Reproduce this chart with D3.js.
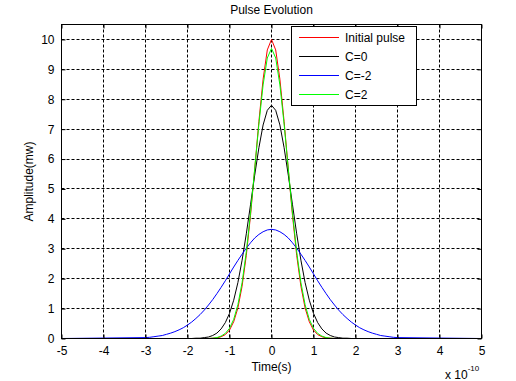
<!DOCTYPE html>
<meta charset="utf-8">
<style>
body { margin: 0; background: #fff; }
text { font-family: "Liberation Sans", Arial, sans-serif; fill: #000; }
</style>
<div id="chart"></div>
<script src="https://d3js.org/d3.v7.min.js"></script>
<script>

// time samples, in units of 1e-10 s
var timeAxis = [-5,
  -3.0, -2.9, -2.8, -2.7, -2.6, -2.5, -2.4, -2.3, -2.2, -2.1,
  -2.0, -1.9, -1.8, -1.7, -1.6, -1.5, -1.4, -1.3, -1.2, -1.1,
  -1.0, -0.9, -0.8, -0.7, -0.6, -0.5, -0.4, -0.3, -0.2, -0.1,
  0,
  0.1, 0.2, 0.3, 0.4, 0.5, 0.6, 0.7, 0.8, 0.9, 1.0,
  1.1, 1.2, 1.3, 1.4, 1.5, 1.6, 1.7, 1.8, 1.9, 2.0,
  2.1, 2.2, 2.3, 2.4, 2.5, 2.6, 2.7, 2.8, 2.9, 3.0,
  5];

var initialPulse = [0,
  0, 0, 0, 0, 0, 0, 0, 0, 0, 0,
  0, 0, 0, 0, 0, 0, 0.01, 0.02, 0.06, 0.13,
  0.28, 0.56, 1.02, 1.75, 2.78, 4.11, 5.66, 7.26, 8.67, 9.65,
  10.0,
  9.65, 8.67, 7.26, 5.66, 4.11, 2.78, 1.75, 1.02, 0.56, 0.28,
  0.13, 0.06, 0.02, 0.01, 0, 0, 0, 0, 0, 0,
  0, 0, 0, 0, 0, 0, 0, 0, 0, 0,
  0];

var pulseC0 = [0,
  0, 0, 0, 0, 0, 0, 0, 0, 0, 0,
  0, 0, 0.01, 0.01, 0.03, 0.05, 0.10, 0.18, 0.32, 0.53,
  0.84, 1.28, 1.87, 2.62, 3.50, 4.47, 5.46, 6.38, 7.14, 7.63,
  7.80,
  7.63, 7.14, 6.38, 5.46, 4.47, 3.50, 2.62, 1.87, 1.28, 0.84,
  0.53, 0.32, 0.18, 0.10, 0.05, 0.03, 0.01, 0.01, 0, 0,
  0, 0, 0, 0, 0, 0, 0, 0, 0, 0,
  0];

var pulseCm2 = [0,
  0.03, 0.04, 0.06, 0.08, 0.10, 0.14, 0.18, 0.23, 0.29, 0.36,
  0.45, 0.55, 0.67, 0.80, 0.95, 1.12, 1.30, 1.50, 1.71, 1.93,
  2.16, 2.39, 2.61, 2.82, 3.02, 3.20, 3.36, 3.48, 3.57, 3.63,
  3.65,
  3.63, 3.57, 3.48, 3.36, 3.20, 3.02, 2.82, 2.61, 2.39, 2.16,
  1.93, 1.71, 1.50, 1.30, 1.12, 0.95, 0.80, 0.67, 0.55, 0.45,
  0.36, 0.29, 0.23, 0.18, 0.14, 0.10, 0.08, 0.06, 0.04, 0.03,
  0];

var pulseC2 = [0,
  0, 0, 0, 0, 0, 0, 0, 0, 0, 0,
  0, 0, 0, 0, 0, 0, 0.01, 0.03, 0.08, 0.17,
  0.34, 0.64, 1.13, 1.87, 2.90, 4.19, 5.67, 7.17, 8.48, 9.38,
  9.70,
  9.38, 8.48, 7.17, 5.67, 4.19, 2.90, 1.87, 1.13, 0.64, 0.34,
  0.17, 0.08, 0.03, 0.01, 0, 0, 0, 0, 0, 0,
  0, 0, 0, 0, 0, 0, 0, 0, 0, 0,
  0];

var seriesNames = ["Initial pulse", "C=0", "C=-2", "C=2"];
var seriesColors = ["#ff0000", "#000000", "#0000ff", "#00ff00"];
var seriesValues = [initialPulse, pulseC0, pulseCm2, pulseC2];

var xTicks = [-5, -4, -3, -2, -1, 0, 1, 2, 3, 4, 5];
var yTicks = [0, 1, 2, 3, 4, 5, 6, 7, 8, 9, 10];

var W = 516, H = 381;
var box = {left: 61.5, right: 481.5, top: 24.5, bottom: 338.5};

var svg = d3.select("#chart").append("svg")
    .attr("width", W)
    .attr("height", H);

var x = d3.scaleLinear().domain([-5, 5]).range([box.left, box.right]);
var y = d3.scaleLinear().domain([0, 10.5]).range([box.bottom, box.top]);
var snap = function(v) { return Math.round(v - 0.5) + 0.5; };

// grid
var grid = svg.append("g")
    .attr("stroke", "#000")
    .attr("stroke-width", 1)
    .attr("stroke-dasharray", "3,2");

grid.selectAll(".gx")
    .data(xTicks.slice(1, -1))
    .enter().append("line")
      .attr("x1", function(d) { return snap(x(d)); })
      .attr("x2", function(d) { return snap(x(d)); })
      .attr("y1", box.top)
      .attr("y2", box.bottom);

grid.selectAll(".gy")
    .data(yTicks.slice(1))
    .enter().append("line")
      .attr("x1", box.left)
      .attr("x2", box.right)
      .attr("y1", function(d) { return snap(y(d)); })
      .attr("y2", function(d) { return snap(y(d)); });

// curves
var line = d3.line()
    .x(function(d) { return x(d[0]); })
    .y(function(d) { return y(d[1]); });

seriesValues.forEach(function(vals, i) {
  var pts = timeAxis.map(function(t, j) { return [t, vals[j]]; });
  svg.append("path")
      .datum(pts)
      .attr("fill", "none")
      .attr("stroke", seriesColors[i])
      .attr("stroke-width", 1)
      .attr("d", line);
});

// box + inward ticks
svg.append("rect")
    .attr("x", box.left)
    .attr("y", box.top)
    .attr("width", box.right - box.left)
    .attr("height", box.bottom - box.top)
    .attr("fill", "none")
    .attr("stroke", "#000");

function fmt(d) { return String(d); }

svg.append("g")
    .attr("transform", "translate(0," + box.bottom + ")")
    .call(d3.axisBottom(x).tickValues(xTicks).tickSize(-4).tickPadding(8).tickFormat(fmt))
    .call(function(g) { g.select(".domain").remove(); })
    .selectAll("text")
      .attr("font-size", 12)
      .attr("font-family", "Liberation Sans, Arial, sans-serif");

svg.append("g")
    .attr("transform", "translate(" + box.left + ",0)")
    .call(d3.axisLeft(y).tickValues(yTicks).tickSize(-4).tickPadding(7).tickFormat(fmt))
    .call(function(g) { g.select(".domain").remove(); })
    .selectAll("text")
      .attr("font-size", 12)
      .attr("font-family", "Liberation Sans, Arial, sans-serif");

svg.append("g")
    .attr("transform", "translate(0," + box.top + ")")
    .call(d3.axisTop(x).tickValues(xTicks).tickSize(-4).tickFormat(""))
    .call(function(g) { g.select(".domain").remove(); });

svg.append("g")
    .attr("transform", "translate(" + box.right + ",0)")
    .call(d3.axisRight(y).tickValues(yTicks).tickSize(-4).tickFormat(""))
    .call(function(g) { g.select(".domain").remove(); });

// labels
svg.append("text")
    .attr("x", (box.left + box.right) / 2)
    .attr("y", 14)
    .attr("text-anchor", "middle")
    .attr("font-size", 12)
    .text("Pulse Evolution");

svg.append("text")
    .attr("x", (box.left + box.right) / 2)
    .attr("y", 371)
    .attr("text-anchor", "middle")
    .attr("font-size", 12)
    .text("Time(s)");

svg.append("text")
    .attr("transform", "translate(33," + ((box.top + box.bottom) / 2) + ") rotate(-90)")
    .attr("text-anchor", "middle")
    .attr("font-size", 12)
    .text("Amplitude(mw)");

var expo = svg.append("text")
    .attr("x", 445)
    .attr("y", 379)
    .attr("font-size", 12);
expo.append("tspan").text("x 10");
expo.append("tspan")
    .attr("dy", -8)
    .attr("font-size", 8)
    .text("-10");

// legend
var legend = svg.append("g");
legend.append("rect")
    .attr("x", 291.5)
    .attr("y", 26.5)
    .attr("width", 125)
    .attr("height", 79)
    .attr("fill", "#fff")
    .attr("stroke", "#000");

var item = legend.selectAll(".item")
    .data(seriesNames)
    .enter().append("g")
      .attr("transform", function(d, i) { return "translate(0," + (37.5 + i * 19) + ")"; });

item.append("line")
    .attr("x1", 299)
    .attr("x2", 339)
    .attr("stroke-width", 1)
    .attr("stroke", function(d, i) { return seriesColors[i]; });

item.append("text")
    .attr("x", 345)
    .attr("dy", "0.35em")
    .attr("font-size", 12)
    .text(function(d) { return d; });

</script>
